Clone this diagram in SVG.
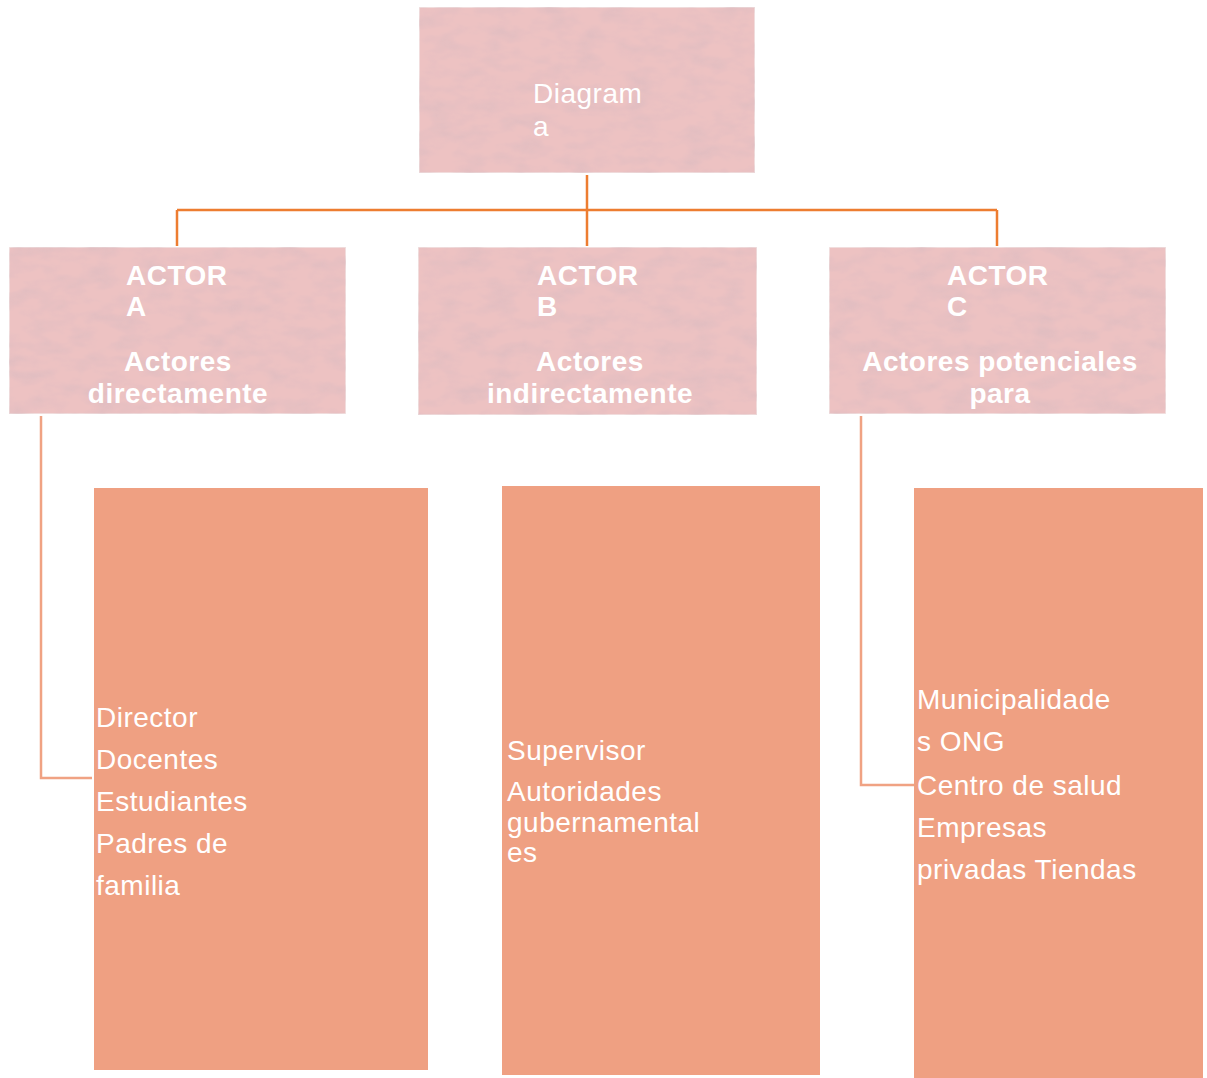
<svg xmlns="http://www.w3.org/2000/svg" width="1207" height="1078" viewBox="0 0 1207 1078">
<defs>
<filter id="tex" x="0" y="0" width="100%" height="100%">
<feTurbulence type="fractalNoise" baseFrequency="0.035 0.07" numOctaves="3" seed="4" result="n"/>
<feColorMatrix in="n" type="matrix" values="0 0 0 0 0.70  0 0 0 0 0.50  0 0 0 0 0.53  0 0 0 1.3 -0.5" result="spots"/>
<feComposite in="spots" in2="SourceGraphic" operator="in" result="s2"/>
<feMerge><feMergeNode in="SourceGraphic"/><feMergeNode in="s2"/></feMerge>
</filter>
<style>
.pink{fill:#EDC2C2;stroke:#F2E6E6;stroke-width:1.5;filter:url(#tex)}
.sal{fill:#EFA082}
.tn{font-family:"Liberation Sans",Arial,sans-serif;font-size:28px;fill:#fff;letter-spacing:0.5px}
.tb{font-family:"Liberation Sans",Arial,sans-serif;font-size:28px;font-weight:bold;fill:#fff;letter-spacing:0.5px}
.c{text-anchor:middle}
.lo{fill:none;stroke:#ED7D31;stroke-width:2.5}
.ls{fill:none;stroke:#F0A283;stroke-width:2.5}
</style>
</defs>
<rect width="1207" height="1078" fill="#fff"/>
<g id="connectors">
<path class="lo" d="M587 175V246M177 210H997M177 210V246M997 210V246"/>
<path class="ls" d="M41 416V778H92"/>
<path class="ls" d="M861 416V785H914"/>
</g>
<g id="root">
<rect class="pink" x="419" y="7" width="336" height="166"/>
<text class="tn" x="533" y="103">Diagram</text>
<text class="tn" x="533" y="136">a</text>
</g>
<g id="actorA">
<rect class="pink" x="9" y="247" width="337" height="167"/>
<text class="tb" x="126" y="285">ACTOR</text>
<text class="tb" x="126" y="316">A</text>
<text class="tb c" x="178" y="371">Actores</text>
<text class="tb c" x="178" y="403">directamente</text>
</g>
<g id="actorB">
<rect class="pink" x="418" y="247" width="339" height="168"/>
<text class="tb" x="537" y="285">ACTOR</text>
<text class="tb" x="537" y="316">B</text>
<text class="tb c" x="590" y="371">Actores</text>
<text class="tb c" x="590" y="403">indirectamente</text>
</g>
<g id="actorC">
<rect class="pink" x="829" y="247" width="337" height="167"/>
<text class="tb" x="947" y="285">ACTOR</text>
<text class="tb" x="947" y="316">C</text>
<text class="tb c" x="1000" y="371">Actores potenciales</text>
<text class="tb c" x="1000" y="403">para</text>
</g>
<g id="listA">
<rect class="sal" x="94" y="488" width="334" height="582"/>
<text class="tn" x="96" y="727">Director</text>
<text class="tn" x="96" y="769">Docentes</text>
<text class="tn" x="96" y="811">Estudiantes</text>
<text class="tn" x="96" y="853">Padres de</text>
<text class="tn" x="96" y="895">familia</text>
</g>
<g id="listB">
<rect class="sal" x="502" y="486" width="318" height="589"/>
<text class="tn" x="507" y="760">Supervisor</text>
<text class="tn" x="507" y="801">Autoridades</text>
<text class="tn" x="507" y="832">gubernamental</text>
<text class="tn" x="507" y="862">es</text>
</g>
<g id="listC">
<rect class="sal" x="914" y="488" width="289" height="590"/>
<text class="tn" x="917" y="709">Municipalidade</text>
<text class="tn" x="917" y="751">s ONG</text>
<text class="tn" x="917" y="795">Centro de salud</text>
<text class="tn" x="917" y="837">Empresas</text>
<text class="tn" x="917" y="879">privadas Tiendas</text>
</g>
</svg>
